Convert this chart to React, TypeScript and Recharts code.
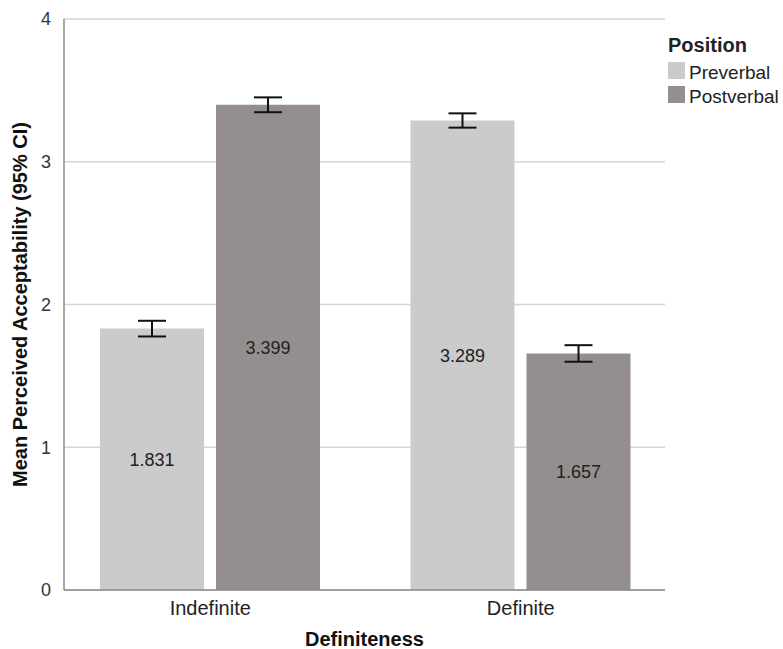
import React from 'react';
import { BarChart, Bar, XAxis, YAxis, CartesianGrid, Legend, ErrorBar, LabelList } from 'recharts';

// categories and series
const categories = ['Indefinite', 'Definite'];
const preverbal = [1.831, 3.289];
const postverbal = [3.399, 1.657];
const preverbalCI = [0.055, 0.05];
const postverbalCI = [0.052, 0.058];
const yTicks = [0, 1, 2, 3, 4];

const FONT = '"Liberation Sans", Arial, Helvetica, sans-serif';
const PRE_COLOR = '#cbcbcb';
const POST_COLOR = '#948f8e';

const data = categories.map((c, i) => ({
  name: c,
  preverbal: preverbal[i],
  postverbal: postverbal[i],
  preErr: preverbalCI[i],
  postErr: postverbalCI[i],
}));

const legendItems = [
  { label: 'Preverbal', color: PRE_COLOR },
  { label: 'Postverbal', color: POST_COLOR },
];

const renderLegend = () => (
  <svg width={116} height={112} style={{ display: 'block' }}>
    <text x={1} y={52} fontFamily={FONT} fontWeight="bold" fontSize={20} fill="#222">
      Position
    </text>
    {legendItems.map((item, i) => (
      <g key={item.label}>
        <rect x={1} y={62 + i * 24} width={17} height={17} fill={item.color} />
        <text x={22} y={79 + i * 24} fontFamily={FONT} fontSize={19} fill="#222">
          {item.label}
        </text>
      </g>
    ))}
  </svg>
);

const YLabel = (props: any) => {
  const { viewBox } = props;
  const cy = viewBox.y + viewBox.height / 2;
  return (
    <text
      x={20}
      y={cy}
      transform={`rotate(-90, 20, ${cy})`}
      textAnchor="middle"
      dominantBaseline="central"
      fontFamily={FONT}
      fontWeight="bold"
      fontSize={20}
      fill="#111"
    >
      Mean Perceived Acceptability (95% CI)
    </text>
  );
};

const App: React.FC = () => {
  return (
    <div style={{ position: 'absolute', left: 0, top: 0 }}>
      <BarChart
        width={783}
        height={649}
        data={data}
        margin={{ top: 19, right: 2, left: 0, bottom: 0 }}
        barGap={12}
        barCategoryGap={45}
      >
        <CartesianGrid vertical={false} stroke="#d6d6d6" strokeWidth={1.5} />
        <XAxis
          dataKey="name"
          height={59}
          padding={{ left: -9, right: -11 }}
          tickLine={false}
          tickSize={0}
          tickMargin={11}
          stroke="#8a8a8a"
          strokeWidth={1.5}
          tick={{ fill: '#222', fontSize: 20, fontFamily: FONT }}
          label={{
            value: 'Definiteness',
            position: 'insideBottom',
            offset: 3,
            fill: '#111',
            fontSize: 20,
            fontWeight: 'bold',
            fontFamily: FONT,
          }}
        />
        <YAxis
          width={64}
          domain={[0, 4]}
          ticks={yTicks}
          tickLine={false}
          tickSize={0}
          tickMargin={13}
          stroke="#8a8a8a"
          strokeWidth={1.5}
          tick={{ fill: '#333', fontSize: 18, fontFamily: FONT }}
          label={<YLabel />}
        />
        <Legend
          layout="vertical"
          verticalAlign="top"
          align="right"
          content={renderLegend}
          wrapperStyle={{ top: 0, left: 667, width: 116 }}
        />
        <Bar dataKey="preverbal" name="Preverbal" fill={PRE_COLOR} isAnimationActive={false}>
          <ErrorBar dataKey="preErr" width={14} stroke="#111" strokeWidth={2} />
          <LabelList dataKey="preverbal" position="center" fill="#222" fontSize={18} fontFamily={FONT} />
        </Bar>
        <Bar dataKey="postverbal" name="Postverbal" fill={POST_COLOR} isAnimationActive={false}>
          <ErrorBar dataKey="postErr" width={14} stroke="#111" strokeWidth={2} />
          <LabelList dataKey="postverbal" position="center" fill="#222" fontSize={18} fontFamily={FONT} />
        </Bar>
      </BarChart>
    </div>
  );
};

export default App;
